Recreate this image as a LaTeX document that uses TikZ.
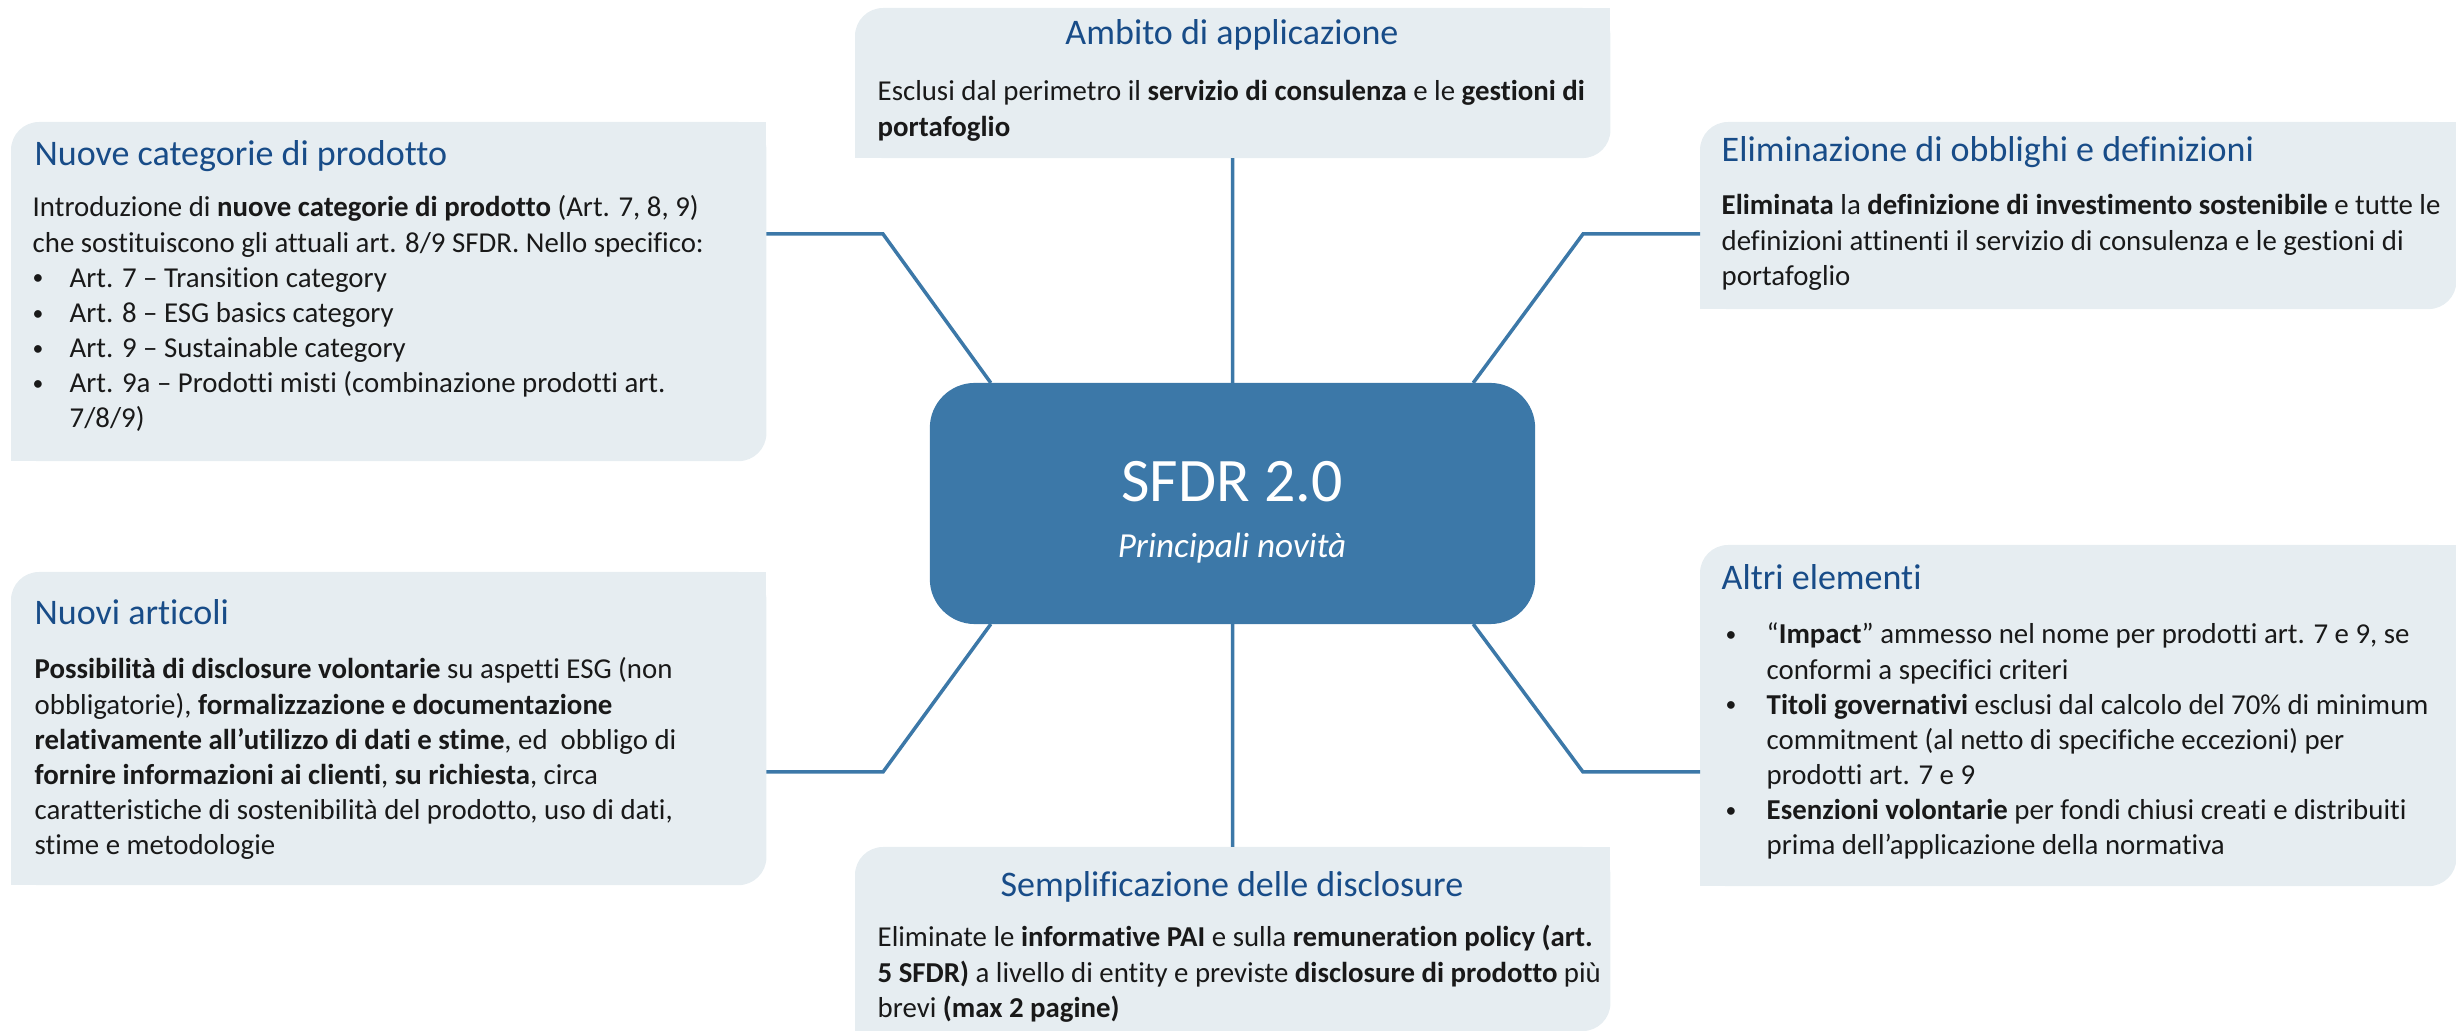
\documentclass[tikz,border=0pt]{standalone}
\usepackage{fontspec}
\setmainfont{Carlito}[Ligatures=NoCommon]
\usetikzlibrary{calc}
\definecolor{panelfill}{RGB}{230,237,241}
\definecolor{titleblue}{RGB}{24,76,136}
\definecolor{mainblue}{RGB}{60,120,168}
\definecolor{bodyink}{RGB}{25,25,25}
\newcommand\bodyfont{\fontsize{8.2pt}{9.96pt}\selectfont}
\newcommand\titlefont{\fontsize{10.24pt}{12pt}\selectfont}
\newcommand\mytxt[1]{\begin{minipage}[t]{9cm}\raggedright #1\end{minipage}}
\newcommand\smallbul{\raisebox{0.15ex}{\scalebox{0.75}{\textbullet}}}
\newcommand\bulA[1]{\makebox[0.37cm][l]{\smallbul}#1}
\newcommand\bulB[1]{\makebox[0.41cm][l]{\smallbul}#1}
\tikzset{
  panel/.style={fill=panelfill, rounded corners=0.28cm, inner sep=0pt, outer sep=0pt, anchor=north west},
  conn/.style={draw=mainblue, line width=0.035cm},
  ttl/.style={text=titleblue, font=\titlefont, inner sep=0pt, anchor=base west},
  bodytext/.style={text=bodyink, font=\bodyfont, inner sep=0pt, anchor=base west},
  hub/.style={fill=mainblue, rounded corners=0.45cm, inner sep=0pt, outer sep=0pt, minimum width=6.05cm, minimum height=2.41cm},
}
\begin{document}
\begin{tikzpicture}[x=0.01cm, y=-0.01cm]
\useasboundingbox (0,0) rectangle (2456,1031);
% panels
\node[panel, minimum width=7.55cm, minimum height=1.50cm] (amb) at (855,8) {};
\node[panel, minimum width=7.55cm, minimum height=3.39cm] (ncp) at (11,122) {};
\node[panel, minimum width=7.56cm, minimum height=1.87cm] (elim) at (1700,122) {};
\node[panel, minimum width=7.55cm, minimum height=3.13cm] (nart) at (11,572) {};
\node[panel, minimum width=7.56cm, minimum height=3.41cm] (altri) at (1700,545) {};
\node[panel, minimum width=7.55cm, minimum height=1.84cm] (sempl) at (855,847) {};
\foreach \p in {amb,ncp,elim,nart,altri,sempl}{
  \fill[panelfill] (\p.north east) rectangle ++(-40,40);
  \fill[panelfill] (\p.south west) rectangle ++(40,-40);
}
% hub
\node[hub] (sfdr) at (1232.5,503.5) {};
% connectors
\coordinate (nwb) at (883,234);
\coordinate (neb) at (1583,234);
\coordinate (swb) at (883,772);
\coordinate (seb) at (1583,772);
\draw[conn] (amb.south) -- (sfdr.north);
\draw[conn] (sfdr.south) -- (sempl.north);
\draw[conn] (ncp.east |- nwb) -- (nwb) -- ($(sfdr.north west)+(61,0)$);
\draw[conn] (elim.west |- neb) -- (neb) -- ($(sfdr.north east)+(-62,0)$);
\draw[conn] (nart.east |- swb) -- (swb) -- ($(sfdr.south west)+(61,0)$);
\draw[conn] (altri.west |- seb) -- (seb) -- ($(sfdr.south east)+(-62,0)$);
% hub text
\node[text=white, font=\fontsize{17.6pt}{20pt}\selectfont, inner sep=0pt, anchor=base] (hubT) at (1232,502) {SFDR 2.0};
\node[text=white, font=\fontsize{10pt}{12pt}\selectfont\itshape, inner sep=0pt, anchor=base] (hubS) at (1232,558) {Principali novità};
% panel texts
\node[ttl, anchor=base] (ambT) at (1232,45) {Ambito di applicazione};
\node[bodytext] (ambB) at (877,101) {\mytxt{Esclusi dal perimetro il \textbf{servizio di consulenza} e le \textbf{gestioni di}\\
\textbf{portafoglio}}};

\node[ttl] (ncpT) at (34,166) {Nuove categorie di prodotto};
\node[bodytext] (ncpB) at (32,217) {\mytxt{Introduzione di \textbf{nuove categorie di prodotto} (Art. 7, 8, 9)\\
che sostituiscono gli attuali art. 8/9 SFDR. Nello specifico:\\
\bulA{Art. 7 – Transition category}\\
\bulA{Art. 8 – ESG basics category}\\
\bulA{Art. 9 – Sustainable category}\\
\bulA{Art. 9a – Prodotti misti (combinazione prodotti art.}\\
\hspace*{0.37cm}7/8/9)}};

\node[ttl] (elimT) at (1721,162) {Eliminazione di obblighi e definizioni};
\node[bodytext] (elimB) at (1721,215) {\mytxt{\textbf{Eliminata} la \textbf{definizione di investimento sostenibile} e tutte le\\
definizioni attinenti il servizio di consulenza e le gestioni di\\
portafoglio}};

\node[ttl] (nartT) at (34,625) {Nuovi articoli};
\node[bodytext] (nartB) at (34,679) {\mytxt{\textbf{Possibilità di disclosure volontarie} su aspetti ESG (non\\
obbligatorie), \textbf{formalizzazione e documentazione}\\
\textbf{relativamente all’utilizzo di dati e stime}, ed\ \ obbligo di\\
\textbf{fornire informazioni ai clienti}, \textbf{su richiesta}, circa\\
caratteristiche di sostenibilità del prodotto, uso di dati,\\
stime e metodologie}};

\node[ttl] (altriT) at (1721,590) {Altri elementi};
\node[bodytext] (altriB) at (1725,644) {\mytxt{\bulB{“\textbf{Impact}” ammesso nel nome per prodotti art. 7 e 9, se}\\
\hspace*{0.41cm}conformi a specifici criteri\\
\bulB{\textbf{Titoli governativi} esclusi dal calcolo del 70\% di minimum}\\
\hspace*{0.41cm}commitment (al netto di specifiche eccezioni) per\\
\hspace*{0.41cm}prodotti art. 7 e 9\\
\bulB{\textbf{Esenzioni volontarie} per fondi chiusi creati e distribuiti}\\
\hspace*{0.41cm}prima dell’applicazione della normativa}};

\node[ttl, anchor=base] (semplT) at (1232,897) {Semplificazione delle disclosure};
\node[bodytext] (semplB) at (877,947) {\mytxt{Eliminate le \textbf{informative PAI} e sulla \textbf{remuneration policy (art.}\\
\textbf{5 SFDR)} a livello di entity e previste \textbf{disclosure di prodotto} più\\
brevi \textbf{(max 2 pagine)}}};
\end{tikzpicture}
\end{document}
